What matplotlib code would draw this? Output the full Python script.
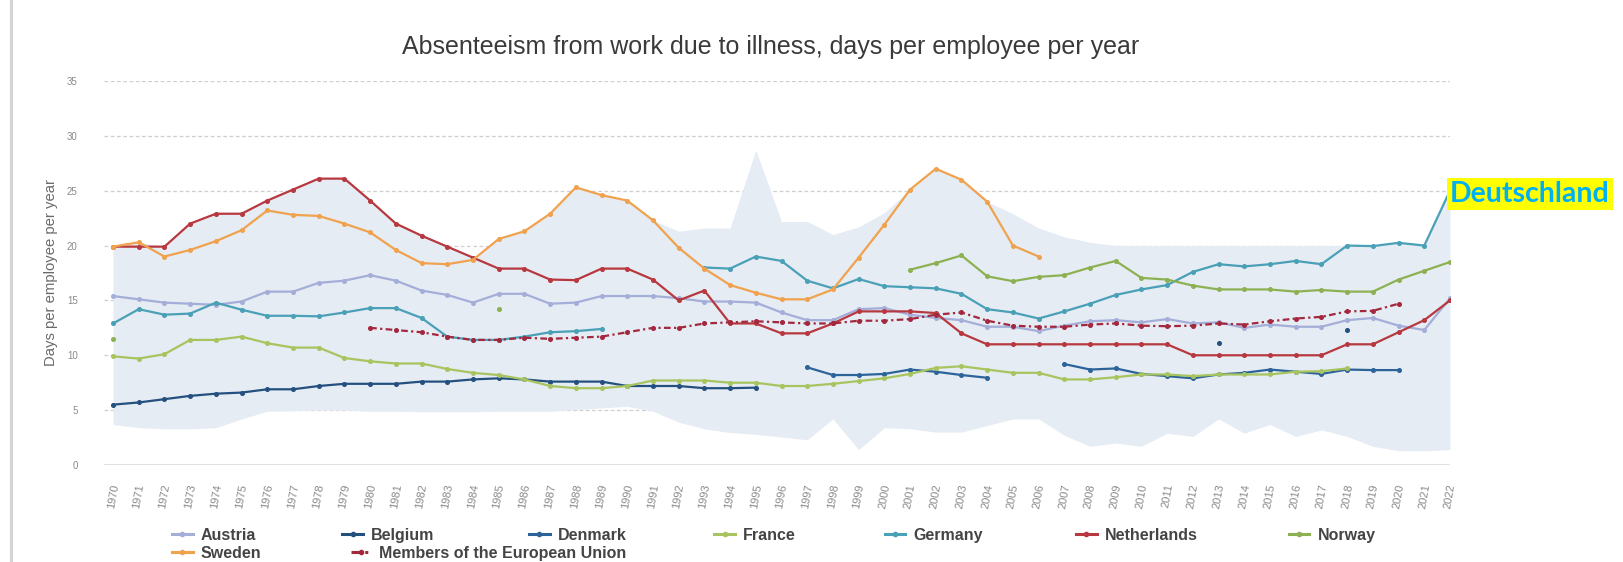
import matplotlib.pyplot as plt
import numpy as np
from matplotlib.lines import Line2D

nan = np.nan

years = list(range(1970, 2023))

# days per employee per year (nan = no value)
austria = [15.4, 15.1, 14.8, 14.7, 14.6, 14.9, 15.8, 15.8, 16.6, 16.8,
           17.3, 16.8, 15.9, 15.5, 14.8, 15.6, 15.6, 14.7, 14.8, 15.4,
           15.4, 15.4, 15.2, 14.9, 14.9, 14.8, 13.9, 13.2, 13.2, 14.2,
           14.3, 13.7, 13.4, 13.2, 12.6, 12.6, 12.2, 12.7, 13.1, 13.2,
           13.0, 13.3, 12.9, 13.0, 12.5, 12.8, 12.6, 12.6, 13.2, 13.4,
           12.7, 12.3, 15.2]
belgium = [5.5, 5.7, 6.0, 6.3, 6.5, 6.6, 6.9, 6.9, 7.2, 7.4,
           7.4, 7.4, 7.6, 7.6, 7.8, 7.9, 7.8, 7.6, 7.6, 7.6,
           7.2, 7.2, 7.2, 7.0, 7.0, 7.05, nan, nan, nan, nan,
           nan, nan, nan, nan, nan, nan, nan, nan, nan, nan,
           nan, nan, nan, 11.1, nan, nan, nan, nan, 12.3, nan,
           nan, nan, nan]
denmark = [nan, nan, nan, nan, nan, nan, nan, nan, nan, nan,
           nan, nan, nan, nan, nan, nan, nan, nan, nan, nan,
           nan, nan, nan, nan, nan, nan, nan, 8.9, 8.2, 8.2,
           8.3, 8.7, 8.5, 8.2, 7.95, nan, nan, 9.2, 8.7, 8.8,
           8.3, 8.1, 7.9, 8.25, 8.4, 8.7, 8.5, 8.3, 8.7, 8.65,
           8.65, nan, nan]
france = [9.9, 9.7, 10.1, 11.4, 11.4, 11.7, 11.1, 10.7, 10.7, 9.75,
          9.45, 9.25, 9.25, 8.75, 8.4, 8.2, 7.8, 7.2, 7.0, 7.0,
          7.2, 7.7, 7.7, 7.7, 7.5, 7.5, 7.2, 7.2, 7.4, 7.65,
          7.9, 8.3, 8.85, 9.0, 8.7, 8.4, 8.4, 7.8, 7.8, 8.0,
          8.25, 8.25, 8.1, 8.25, 8.25, 8.25, 8.5, 8.55, 8.8, nan,
          nan, nan, nan]
germany = [12.9, 14.2, 13.7, 13.8, 14.8, 14.15, 13.6, 13.6, 13.55, 13.9,
           14.3, 14.3, 13.4, 11.7, 11.4, 11.4, 11.7, 12.1, 12.2, 12.4,
           nan, nan, nan, 18.0, 17.9, 19.0, 18.6, 16.8, 16.1, 16.95,
           16.3, 16.2, 16.1, 15.6, 14.2, 13.9, 13.35, 14.0, 14.7, 15.5,
           16.0, 16.4, 17.6, 18.3, 18.1, 18.3, 18.6, 18.3, 20.0, 19.95,
           20.25, 20.0, 25.0]
netherlands = [19.9, 19.9, 19.9, 22.0, 22.9, 22.9, 24.1, 25.1, 26.1, 26.1,
               24.1, 22.0, 20.9, 19.9, 18.9, 17.9, 17.9, 16.9, 16.85, 17.9,
               17.9, 16.9, 15.0, 15.9, 12.9, 12.9, 12.0, 12.0, 12.9, 14.0,
               14.0, 14.0, 13.85, 12.0, 11.0, 11.0, 11.0, 11.0, 11.0, 11.0,
               11.0, 11.0, 10.0, 10.0, 10.0, 10.0, 10.0, 10.0, 11.0, 11.0,
               12.1, 13.2, 15.0]
norway = [11.5, nan, nan, nan, nan, nan, nan, nan, nan, nan,
          nan, nan, nan, nan, nan, 14.2, nan, nan, nan, nan,
          nan, nan, nan, nan, nan, nan, nan, nan, nan, nan,
          nan, 17.8, 18.4, 19.1, 17.2, 16.75, 17.15, 17.3, 18.0, 18.6,
          17.05, 16.9, 16.35, 16.0, 16.0, 16.0, 15.8, 15.95, 15.8, 15.8,
          16.9, 17.7, 18.5]
sweden = [19.9, 20.3, 19.0, 19.6, 20.4, 21.4, 23.2, 22.8, 22.7, 22.0,
          21.2, 19.6, 18.4, 18.3, 18.7, 20.6, 21.3, 22.9, 25.3, 24.6,
          24.1, 22.3, 19.8, 17.9, 16.4, 15.7, 15.1, 15.1, 16.0, 18.9,
          21.9, 25.1, 27.0, 26.0, 24.0, 20.0, 19.0, nan, nan, nan,
          nan, nan, nan, nan, nan, nan, nan, nan, nan, nan,
          nan, nan, nan]
eu_members = [nan, nan, nan, nan, nan, nan, nan, nan, nan, nan,
              12.5, 12.3, 12.1, 11.7, 11.4, 11.4, 11.6, 11.5, 11.6, 11.7,
              12.1, 12.5, 12.5, 12.9, 13.0, 13.1, 13.0, 12.9, 12.9, 13.15,
              13.15, 13.3, 13.7, 13.9, 13.15, 12.7, 12.6, 12.6, 12.8, 12.9,
              12.7, 12.65, 12.7, 12.9, 12.8, 13.1, 13.35, 13.5, 14.0, 14.05,
              14.7, nan, nan]

# min / max range over all countries
band_low = [3.7, 3.4, 3.3, 3.3, 3.4, 4.2, 4.9, 4.95, 5.0, 5.0,
            4.9, 4.9, 4.85, 4.85, 4.85, 4.9, 4.9, 4.9, 5.05, 5.2,
            5.35, 4.9, 3.9, 3.3, 2.95, 2.8, 2.55, 2.3, 4.2, 1.4,
            3.4, 3.3, 3.0, 3.0, 3.6, 4.2, 4.2, 2.7, 1.7, 2.0,
            1.7, 2.9, 2.6, 4.2, 2.9, 3.7, 2.6, 3.2, 2.6, 1.7,
            1.3, 1.3, 1.4]
band_high = [20.0, 20.3, 19.9, 22.0, 22.9, 22.9, 24.1, 25.1, 26.1, 26.1,
             24.1, 22.0, 20.9, 19.9, 18.9, 20.6, 21.3, 22.9, 25.3, 24.6,
             24.1, 22.3, 21.3, 21.6, 21.6, 28.7, 22.2, 22.2, 21.0, 21.7,
             23.0, 25.1, 27.0, 26.0, 24.0, 22.9, 21.6, 20.8, 20.3, 20.0,
             20.0, 20.0, 20.0, 20.0, 20.0, 20.0, 20.0, 20.0, 20.0, 19.95,
             20.25, 20.0, 25.0]

names = ["Austria", "Belgium", "Denmark", "France", "Germany",
         "Netherlands", "Norway", "Sweden", "Members of the European Union"]
series = [austria, belgium, denmark, france, germany,
          netherlands, norway, sweden, eu_members]
colors = ["#a4aed8", "#24507f", "#2c6399", "#a8c45e", "#4aa0b6",
          "#b8383f", "#8db152", "#f0a24e", "#a3283e"]

plt.rcParams['font.family'] = ['Liberation Sans', 'DejaVu Sans']

fig = plt.figure(figsize=(16.23, 5.62), dpi=100)
ax = fig.add_axes([0.0641, 0.1726, 0.8293, 0.6833])

x = np.array(years)
ax.fill_between(x, np.array(band_low), np.array(band_high),
                color="#e5ecf4", linewidth=0, zorder=1)

handles = []
for name, vals, col in zip(names, series, colors):
    ls = (0, (3, 1.5, 1, 1.5)) if name.startswith("Members") else "-"
    ax.plot(x, np.array(vals, dtype=float), color=col, lw=1.6, ls=ls,
            marker="o", ms=2.6, zorder=3)
    handles.append(Line2D([], [], color=col, lw=2.2, ls=ls, marker="o", ms=3))

ax.set_xlim(1969.65, 2021.72)
ax.set_ylim(0, 35)
ax.set_yticks(range(0, 36, 5))
ax.set_xticks(years)
ax.set_xticklabels([str(y) for y in years], rotation=80, fontsize=8,
                   color="#8a8a8a", ha="center", va="top")
ax.tick_params(axis="both", length=0, colors="#8a8a8a")
ax.tick_params(axis="y", pad=19, labelsize=7)
ax.tick_params(axis="x", pad=13)
for s in ax.spines.values():
    s.set_visible(False)
for v in range(5, 36, 5):
    ax.axhline(v, color="#cfcfcf", lw=0.9, ls=(0, (3, 2)), zorder=0)
ax.axhline(0, color="#dcdcdc", lw=1.2, zorder=0)

ax.set_ylabel("Days per employee per year", fontsize=10.7, color="#6a6a6a")
ax.yaxis.set_label_coords(-0.0345, 0.5)

fig.text(0.475, 0.916, "Absenteeism from work due to illness, days per employee per year",
         ha="center", va="center", fontsize=18, color="#3a3a3a")

# legend entries placed like the original two-row layout
leg_pos = [(0.106, 0.047), (0.211, 0.047), (0.326, 0.047), (0.44, 0.047),
           (0.545, 0.047), (0.663, 0.047), (0.794, 0.047),
           (0.106, 0.015), (0.216, 0.015)]
for h, name, (lx, ly) in zip(handles, names, leg_pos):
    fig.legend(handles=[h], labels=[name], loc="center left",
               bbox_to_anchor=(lx, ly), frameon=False, handlelength=1.3,
               handletextpad=0.5, borderpad=0, borderaxespad=0,
               prop={"family": ["Liberation Sans Narrow", "Liberation Sans"],
                     "weight": "bold", "size": 11.5},
               labelcolor="#444444")

# left frame edge of the screenshot
fig.add_artist(Line2D([0.007, 0.007], [0, 1], transform=fig.transFigure,
                      color="#d4d4d4", lw=2.2))

fig.text(0.8935, 0.655, "Deutschland", ha="left", va="center",
         fontsize=20.5, fontweight="bold", color="#00b0f0",
         family=["Lato", "DejaVu Sans"],
         bbox=dict(facecolor="#ffff00", edgecolor="none", pad=2.2))

fig.savefig("out.png", dpi=100)
